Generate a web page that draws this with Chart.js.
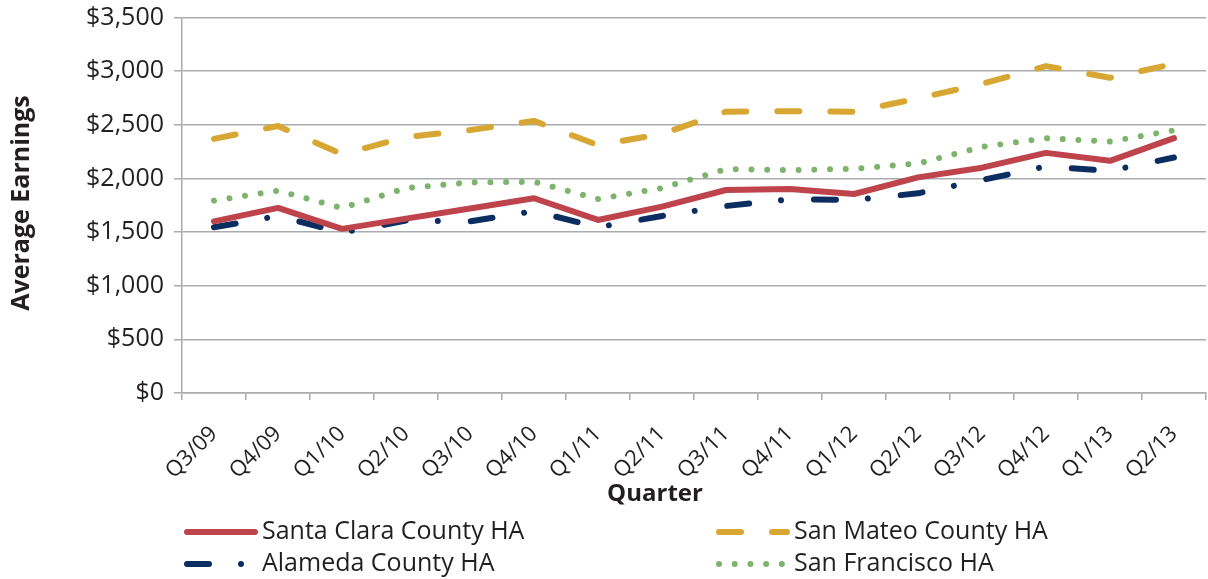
<!DOCTYPE html>
<html>
<head>
<meta charset="utf-8">
<script src="https://cdn.jsdelivr.net/npm/chart.js@4.4.1/dist/chart.umd.min.js"></script>
<style>
  html, body { margin: 0; padding: 0; background: #ffffff; }
  canvas { display: block; }
</style>
</head>
<body>
<canvas id="chart" width="1208" height="579"></canvas>
<script>
const quarters = ['Q3/09', 'Q4/09', 'Q1/10', 'Q2/10', 'Q3/10', 'Q4/10', 'Q1/11', 'Q2/11',
  'Q3/11', 'Q4/11', 'Q1/12', 'Q2/12', 'Q3/12', 'Q4/12', 'Q1/13', 'Q2/13'];

const santaClara = [1600, 1725, 1530, 1625, 1720, 1815, 1613, 1737, 1892, 1902, 1855, 2010, 2100, 2238, 2164, 2375];
const sanMateo = [2369, 2489, 2226, 2385, 2450, 2536, 2310, 2415, 2622, 2626, 2622, 2746, 2882, 3047, 2938, 3068];
const alameda = [1545, 1650, 1495, 1607, 1600, 1695, 1545, 1650, 1743, 1805, 1800, 1861, 1985, 2112, 2071, 2195];
const sanFrancisco = [1793, 1886, 1724, 1910, 1963, 1969, 1808, 1910, 2087, 2077, 2090, 2139, 2294, 2375, 2344, 2449];

const yTicks = [0, 500, 1000, 1500, 2000, 2500, 3000, 3500];

const font = '"Open Sans", Lato, sans-serif';
const textColor = '#231f20';
const gridColor = '#a9abae';

const series = [
  { label: 'Santa Clara County HA', data: santaClara, color: '#be434a', dash: [] },
  { label: 'San Mateo County HA', data: sanMateo, color: '#d8a633', dash: [22, 31] },
  { label: 'Alameda County HA', data: alameda, color: '#0b2d60', dash: [22, 32, 0.01, 33] },
  { label: 'San Francisco HA', data: sanFrancisco, color: '#7db36a', dash: [0.01, 15.7] }
];

// legend slots: [x, y] of the sample line start
const legendSlots = [[184, 532], [716, 532], [184, 564], [716, 564]];

const labelsPlugin = {
  id: 'labels',
  afterDraw: (chart) => {
    const { ctx } = chart;
    ctx.save();
    ctx.fillStyle = textColor;

    ctx.font = `bold 24px ${font}`;
    ctx.textAlign = 'center';
    ctx.textBaseline = 'middle';
    ctx.fillText('Quarter', 655, 494);

    ctx.font = `bold 25px ${font}`;
    ctx.save();
    ctx.translate(22, 203);
    ctx.rotate(-Math.PI / 2);
    ctx.fillText('Average Earnings', 0, 0);
    ctx.restore();

    chart.data.datasets.forEach((ds, i) => {
      const [x, y] = legendSlots[i];
      ctx.save();
      ctx.strokeStyle = ds.borderColor;
      ctx.lineWidth = ds.borderWidth;
      ctx.lineCap = 'round';
      ctx.setLineDash(ds.borderDash);
      ctx.beginPath();
      ctx.moveTo(x + 3, y);
      ctx.lineTo(x + 71, y);
      ctx.stroke();
      ctx.restore();

      ctx.font = `25px ${font}`;
      ctx.textAlign = 'left';
      ctx.textBaseline = 'middle';
      ctx.fillText(ds.label, x + 78, y);
    });
    ctx.restore();
  }
};

new Chart(document.getElementById('chart'), {
  type: 'line',
  data: {
    labels: quarters,
    datasets: series.map((s) => ({
      label: s.label,
      data: s.data,
      borderColor: s.color,
      backgroundColor: s.color,
      borderWidth: 6,
      borderDash: s.dash,
      borderCapStyle: 'round',
      borderJoinStyle: 'round',
      pointRadius: 0,
      tension: 0,
      fill: false
    }))
  },
  options: {
    responsive: false,
    animation: false,
    layout: { padding: { top: 16, right: 2, left: 0, bottom: 0 } },
    plugins: {
      legend: { display: false },
      tooltip: { enabled: false }
    },
    scales: {
      x: {
        offset: true,
        grid: { drawOnChartArea: false, offset: true, tickLength: 7, color: gridColor, lineWidth: 1.5 },
        border: { color: gridColor, width: 1.5 },
        ticks: {
          minRotation: 45,
          maxRotation: 45,
          padding: 21,
          color: textColor,
          font: { family: font, size: 22 }
        },
        afterFit: (scale) => {
          scale.height = 186;
          scale.paddingLeft = 0;
          scale.paddingRight = 0;
        }
      },
      y: {
        min: 0,
        max: 3500,
        afterBuildTicks: (scale) => { scale.ticks = yTicks.map((v) => ({ value: v })); },
        grid: { tickLength: 8, color: gridColor, lineWidth: 1.5 },
        border: { color: gridColor, width: 1.5 },
        ticks: {
          padding: 10,
          color: textColor,
          font: { family: font, size: 25, lineHeight: 0.6 },
          callback: (v) => '$' + v.toLocaleString('en-US')
        },
        afterFit: (scale) => { scale.width = 182; }
      }
    }
  },
  plugins: [labelsPlugin]
});
</script>
</body>
</html>
